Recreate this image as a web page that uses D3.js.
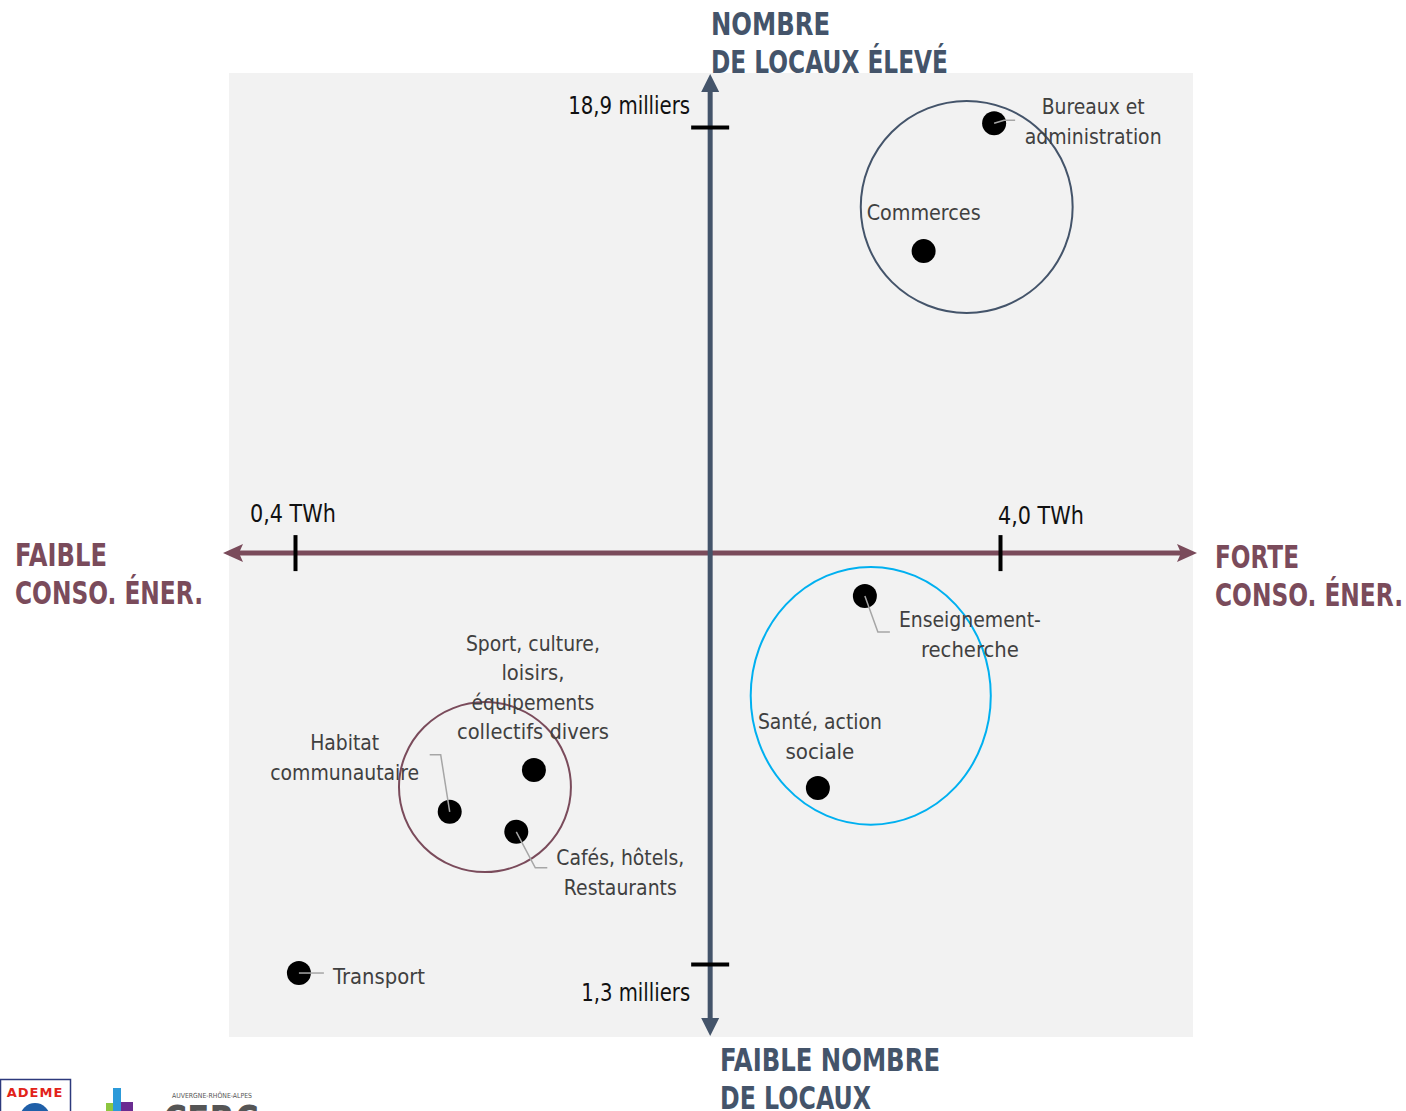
<!DOCTYPE html>
<html><head><meta charset="utf-8">
<script src="https://cdn.jsdelivr.net/npm/d3@7"></script>
<style>
html,body{margin:0;padding:0;background:#fff;}
svg{display:block;}
text{font-family:"DejaVu Sans","Roboto",sans-serif;}
</style></head>
<body>
<svg id="chart" width="1406" height="1111"></svg>
<script>
// ---- data ----
const sectors = ["Bureaux et administration","Commerces","Enseignement-recherche","Santé, action sociale","Sport, culture, loisirs, équipements collectifs divers","Habitat communautaire","Cafés, hôtels, Restaurants","Transport"];
const consoTWh = [3.97, 3.61, 3.31, 3.07, 1.62, 1.19, 1.53, 0.42];
const locauxMilliers = [18.98, 16.29, 9.04, 5.0, 5.38, 4.50, 4.08, 1.11];
const xTickValues = [0.4, 4.0];
const xTickLabels = ["0,4 TWh", "4,0 TWh"];
const yTickValues = [1.3, 18.9];
const yTickLabels = ["1,3 milliers", "18,9 milliers"];
const axisCross = {x: 2.52, y: 9.94};
const clusterNames = ["Grands tertiaires", "Enseignement/Santé", "Loisirs/Hébergement"];
const clusterCx = [3.83, 3.34, 1.37];
const clusterCy = [17.22, 6.94, 5.02];
const clusterRx = [0.541, 0.613, 0.439];
const clusterRy = [2.229, 2.71, 1.787];

// ---- layout ----
const svg = d3.select("#chart");
const panel = {x0: 229, x1: 1193, y0: 73, y1: 1037};
const x = d3.scaleLinear().domain([0.4, 4.0]).range([295, 1000]);
const y = d3.scaleLinear().domain([1.3, 18.9]).range([964, 127]);
const maroon = "#7a4b5b", slate = "#44546a", blue = "#00b0f0", txt = "#404040";
// rendered text widths (style), keyed by text
const textWidths = {
  "Bureaux et": 103, "administration": 137, "Commerces": 114, "Enseignement-": 142, "recherche": 98,
  "Santé, action": 124, "sociale": 69, "Sport, culture,": 134, "loisirs,": 63, "équipements": 123,
  "collectifs divers": 152, "Habitat": 69, "communautaire": 149, "Cafés, hôtels,": 128, "Restaurants": 113,
  "Transport": 92, "18,9 milliers": 122, "1,3 milliers": 109, "0,4 TWh": 86, "4,0 TWh": 86,
  "NOMBRE": 119, "DE LOCAUX ÉLEVÉ": 237, "FAIBLE NOMBRE": 220, "DE LOCAUX": 151,
  "FAIBLE": 92, "CONSO. ÉNER.": 188, "FORTE": 84, "AUVERGNE-RHÔNE-ALPES": 80
};
function fit(sel) {
  sel.each(function() {
    const w = textWidths[this.textContent];
    if (w) d3.select(this).attr("textLength", w).attr("lengthAdjust", "spacingAndGlyphs");
  });
}

svg.append("rect").attr("x", panel.x0).attr("y", panel.y0)
  .attr("width", panel.x1 - panel.x0).attr("height", panel.y1 - panel.y0).attr("fill", "#f2f2f2");

// clusters
const clusterColors = [slate, blue, maroon];
svg.append("g").selectAll("ellipse").data(clusterNames).join("ellipse")
  .attr("cx", (d, i) => x(clusterCx[i]))
  .attr("cy", (d, i) => y(clusterCy[i]))
  .attr("rx", (d, i) => x(clusterCx[i] + clusterRx[i]) - x(clusterCx[i]))
  .attr("ry", (d, i) => y(clusterCy[i]) - y(clusterCy[i] + clusterRy[i]))
  .attr("fill", "none").attr("stroke", (d, i) => clusterColors[i]).attr("stroke-width", 2);

// axes lines with arrowheads
const cx = x(axisCross.x), cy = y(axisCross.y);
const hx0 = panel.x0 - 6, hx1 = panel.x1 + 4;
svg.append("line").attr("x1", hx0 + 16).attr("x2", hx1 - 16).attr("y1", cy).attr("y2", cy)
  .attr("stroke", maroon).attr("stroke-width", 5);
svg.append("path").attr("d", `M${hx0},${cy} L${hx0 + 20},${cy - 9} L${hx0 + 16},${cy} L${hx0 + 20},${cy + 9} Z`).attr("fill", maroon);
svg.append("path").attr("d", `M${hx1},${cy} L${hx1 - 20},${cy - 9} L${hx1 - 16},${cy} L${hx1 - 20},${cy + 9} Z`).attr("fill", maroon);

const vy0 = panel.y0 + 1, vy1 = panel.y1 - 1;
svg.append("line").attr("x1", cx).attr("x2", cx).attr("y1", vy0 + 14).attr("y2", vy1 - 14)
  .attr("stroke", slate).attr("stroke-width", 5);
svg.append("path").attr("d", `M${cx},${vy0} L${cx - 9},${vy0 + 18} L${cx + 9},${vy0 + 18} Z`).attr("fill", slate);
svg.append("path").attr("d", `M${cx},${vy1} L${cx - 9},${vy1 - 18} L${cx + 9},${vy1 - 18} Z`).attr("fill", slate);

// ticks via d3 axes
const xAxis = svg.append("g").attr("transform", `translate(0,${cy - 18})`)
  .call(d3.axisBottom(x).tickValues(xTickValues).tickSize(36).tickFormat(""));
xAxis.select(".domain").remove();
xAxis.selectAll(".tick line").attr("stroke", "#000").attr("stroke-width", 4);
const yAxis = svg.append("g").attr("transform", `translate(${cx - 19},0)`)
  .call(d3.axisRight(y).tickValues(yTickValues).tickSize(38).tickFormat(""));
yAxis.select(".domain").remove();
yAxis.selectAll(".tick line").attr("stroke", "#000").attr("stroke-width", 4);

// tick labels
svg.append("g").selectAll("text").data(xTickValues).join("text")
  .attr("x", (d, i) => x(d) - [45, 2][i]).attr("y", (d, i) => cy - [31, 29][i])
  .attr("font-size", 24).attr("fill", "#111").text((d, i) => xTickLabels[i]).call(fit);
svg.append("g").selectAll("text").data(yTickValues).join("text")
  .attr("x", cx - 20).attr("y", (d, i) => y(d) + [37, -13][i])
  .attr("text-anchor", "end").attr("font-size", 24).attr("fill", "#111").text((d, i) => yTickLabels[i]).call(fit);

// leader lines (relative offsets)
const leaders = [
  [[0,0],[10,-3],[21,-3]],
  null,
  [[0,0],[13,36],[25,36]],
  null,
  null,
  [[0,0],[-9,-57],[-20,-57]],
  [[0,0],[19,36],[31,36]],
  [[0,0],[25,0]]
];
const lg = svg.append("g");
sectors.forEach((s, i) => {
  if (!leaders[i]) return;
  const px = x(consoTWh[i]), py = y(locauxMilliers[i]);
  lg.append("path").attr("d", d3.line()(leaders[i].map(p => [px + p[0], py + p[1]])))
    .attr("fill", "none").attr("stroke", "#a6a6a6").attr("stroke-width", 1.5);
});

// dots
svg.append("g").selectAll("circle").data(sectors).join("circle")
  .attr("cx", (d, i) => x(consoTWh[i])).attr("cy", (d, i) => y(locauxMilliers[i]))
  .attr("r", 12).attr("fill", "#000");
lg.raise();

// point labels
const labelLines = [
  ["Bureaux et", "administration"],
  ["Commerces"],
  ["Enseignement-", "recherche"],
  ["Santé, action", "sociale"],
  ["Sport, culture,", "loisirs,", "équipements", "collectifs divers"],
  ["Habitat", "communautaire"],
  ["Cafés, hôtels,", "Restaurants"],
  ["Transport"]
];
const labelAnchor = ["middle","start","middle","middle","middle","middle","middle","start"];
const labelOff = [[99,-9],[-57,-31],[105,31],[2,-59],[-1,-119],[-105,-62],[104,33],[34,11]];
const labelGap = [30, 30, 30, 30, 29.5, 30, 30, 30];
const lblG = svg.append("g");
sectors.forEach((s, i) => {
  const t = lblG.append("text")
    .attr("x", x(consoTWh[i]) + labelOff[i][0]).attr("y", y(locauxMilliers[i]) + labelOff[i][1])
    .attr("text-anchor", labelAnchor[i]).attr("font-size", 22).attr("fill", txt);
  labelLines[i].forEach((l, j) => {
    t.append("tspan").attr("x", x(consoTWh[i]) + labelOff[i][0]).attr("dy", j ? labelGap[i] : 0).text(l);
  });
});
lblG.selectAll("tspan").call(fit);

// axis titles
const titles = [
  {lines: ["NOMBRE", "DE LOCAUX ÉLEVÉ"], x: 711, y: 35, c: slate},
  {lines: ["FAIBLE NOMBRE", "DE LOCAUX"], x: 720, y: 1071, c: slate},
  {lines: ["FAIBLE", "CONSO. ÉNER."], x: 15, y: 566, c: maroon},
  {lines: ["FORTE", "CONSO. ÉNER."], x: 1215, y: 568, c: maroon}
];
titles.forEach(t => {
  const e = svg.append("text").attr("x", t.x).attr("y", t.y).attr("fill", t.c)
    .attr("font-size", 32).attr("font-weight", "bold");
  t.lines.forEach((l, j) => e.append("tspan").attr("x", t.x).attr("dy", j ? 38 : 0).text(l));
  e.selectAll("tspan").call(fit);
});

// logos (partially visible at the bottom edge)
const logo = svg.append("g");
logo.append("rect").attr("x", 0.5).attr("y", 1079.5).attr("width", 70).attr("height", 40)
  .attr("fill", "#fff").attr("stroke", "#2d3a7c").attr("stroke-width", 1.5);
logo.append("text").attr("x", 35).attr("y", 1097).attr("text-anchor", "middle")
  .attr("font-size", 13).attr("font-weight", "bold").attr("fill", "#e2231a").attr("letter-spacing", 1).text("ADEME");
logo.append("circle").attr("cx", 35).attr("cy", 1118).attr("r", 15).attr("fill", "#1f5fa8");
logo.append("rect").attr("x", 113).attr("y", 1088).attr("width", 8).attr("height", 30).attr("fill", "#2c9ad9");
logo.append("rect").attr("x", 106).attr("y", 1103).attr("width", 7).attr("height", 15).attr("fill", "#8dc63f");
logo.append("rect").attr("x", 121).attr("y", 1102).attr("width", 12).attr("height", 16).attr("fill", "#6a2c91");
logo.append("text").attr("x", 172).attr("y", 1098).attr("font-size", 7).attr("fill", "#555").text("AUVERGNE-RHÔNE-ALPES").call(fit);
logo.append("text").attr("x", 163).attr("y", 1135).attr("font-size", 40).attr("font-weight", "bold").attr("fill", "#555")
  .attr("textLength", 96).attr("lengthAdjust", "spacingAndGlyphs").text("CERC");
</script>
</body></html>
